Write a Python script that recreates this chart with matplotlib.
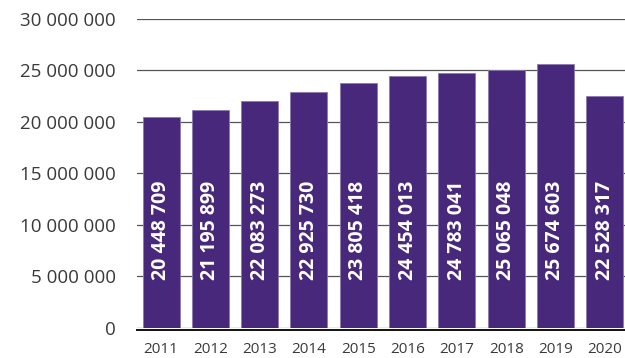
import matplotlib
matplotlib.use("Agg")
import matplotlib.pyplot as plt
from matplotlib.ticker import FuncFormatter

years = ["2011", "2012", "2013", "2014", "2015", "2016", "2017", "2018", "2019", "2020"]
values = [20448709, 21195899, 22083273, 22925730, 23805418,
          24454013, 24783041, 25065048, 25674603, 22528317]
y_ticks = [0, 5000000, 10000000, 15000000, 20000000, 25000000, 30000000]

def spaced(v):
    return f"{int(v):,}".replace(",", " ")

plt.rcParams["font.family"] = ["Open Sans", "DejaVu Sans"]

fig = plt.figure(figsize=(6.25, 3.58), dpi=100)
ax = fig.add_axes([0.219, 0.0838, 0.781, 0.8632])

bar_color = "#48287a"
x = list(range(len(years)))
ax.bar(x, values, width=0.75, color=bar_color, edgecolor="#8d7bb0",
       linewidth=0.6, zorder=2)

for xi, v in zip(x, values):
    ax.text(xi, 4650000, spaced(v), rotation=90, ha="center", va="bottom",
            color="white", fontsize=14, fontweight="bold", zorder=3)

ax.set_ylim(0, 30000000)
ax.set_xlim(-0.49, 9.41)
ax.set_yticks(y_ticks)
ax.yaxis.set_major_formatter(FuncFormatter(lambda v, p: spaced(v)))
ax.set_xticks(x)
ax.set_xticklabels(years)

ax.grid(axis="y", color="#555555", linewidth=0.9, zorder=0)
ax.set_axisbelow(True)
for s in ["top", "right", "left", "bottom"]:
    ax.spines[s].set_visible(False)
ax.axhline(-150000, color="#111111", linewidth=1.4, zorder=4, clip_on=False)

ax.tick_params(axis="both", length=0, labelcolor="#3a3a3a")
ax.tick_params(axis="y", pad=15, labelsize=13.5)
ax.tick_params(axis="x", pad=10, labelsize=11)

fig.savefig("out.png", dpi=100)
